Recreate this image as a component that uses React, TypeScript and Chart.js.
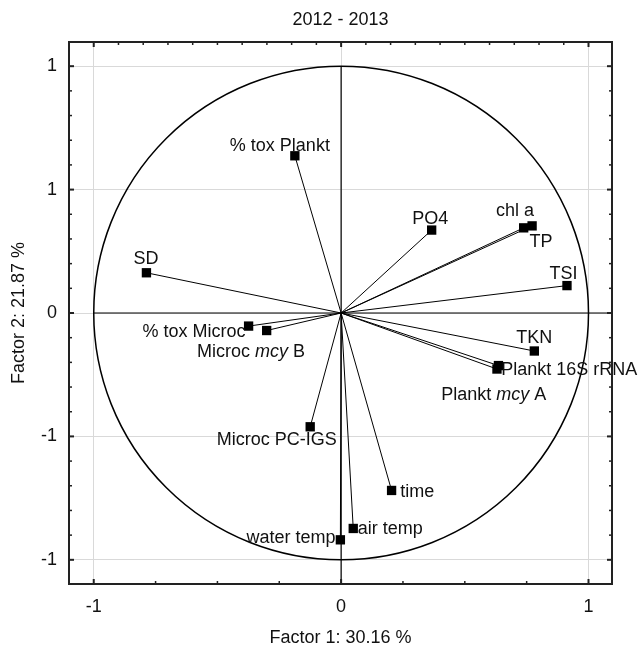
import React, { useEffect, useRef } from "react";
import { Chart, registerables } from "chart.js";

Chart.register(...registerables);

// ---- data ----
const chartTitle = "2012 - 2013";
const xAxisTitle = "Factor 1: 30.16 %";
const yAxisTitle = "Factor 2: 21.87 %";

const variables = [
  "% tox Plankt",
  "PO4",
  "chl a",
  "TP",
  "TSI",
  "SD",
  "% tox Microc",
  "Microc mcy B",
  "TKN",
  "Plankt 16S rRNA",
  "Plankt mcy A",
  "Microc PC-IGS",
  "time",
  "air temp",
  "water temp",
];
const factor1 = [-0.187, 0.366, 0.738, 0.772, 0.913, -0.787, -0.374, -0.301, 0.781, 0.636, 0.63, -0.125, 0.204, 0.049, -0.003];
const factor2 = [0.637, 0.336, 0.345, 0.353, 0.111, 0.163, -0.053, -0.071, -0.154, -0.213, -0.227, -0.461, -0.719, -0.873, -0.919];
const italicWord = "mcy";

const xTickValues = [-1, 0, 1];
const xTickLabels = ["-1", "0", "1"];
const yTickValues = [-1, -0.5, 0, 0.5, 1];
const yTickLabels = ["-1", "-1", "0", "1", "1"];

// ---- style / placement (not data) ----
const FONT_FAMILY = '"Liberation Sans", Arial, Helvetica, sans-serif';
const FONT_SIZE = 18;
const TEXT_COLOR = "#111";
// [align, dx, dy(baseline)] relative to marker centre, in pixels
const labelPlacement: [CanvasTextAlign, number, number][] = [
  ["center", -15, -4.6],
  ["center", -1.3, -6.4],
  ["center", -8.7, -11.7],
  ["left", -2.7, 20.9],
  ["center", -3.5, -7],
  ["center", -0.5, -9.2],
  ["right", -3, 11.3],
  ["center", -15.7, 26.2],
  ["center", 0, -7.7],
  ["left", 2.7, 9.5],
  ["center", -3.2, 31],
  ["center", -33.5, 18.3],
  ["left", 8.7, 6.2],
  ["left", 4.6, 5.6],
  ["right", -4.8, 3.3],
];

function range(a: number, b: number, step: number) {
  const out: number[] = [];
  const n = Math.round((b - a) / step);
  for (let i = 0; i <= n; i++) out.push(+(a + i * step).toFixed(4));
  return out;
}
const topTicks = range(-1, 1, 0.1);
const bottomTicks = range(-1, 1, 0.25);
const sideTicks = range(-1, 1, 0.1);

function segments(text: string) {
  return text.split(new RegExp(`(${italicWord})`)).filter((s) => s.length).map((s) => ({ t: s, it: s === italicWord }));
}

const decorPlugin = {
  id: "decor",
  beforeDatasetsDraw(chart: any) {
    const { ctx, chartArea: a } = chart;
    const xs = chart.scales.x;
    const ys = chart.scales.y;
    const cx = xs.getPixelForValue(0);
    const cy = ys.getPixelForValue(0);
    const rx = xs.getPixelForValue(1) - cx;
    const ry = cy - ys.getPixelForValue(1);
    ctx.save();
    // circle
    ctx.beginPath();
    ctx.ellipse(cx, cy, rx, ry, 0, 0, Math.PI * 2);
    ctx.strokeStyle = "#000";
    ctx.lineWidth = 1.5;
    ctx.stroke();
    // axes lines
    ctx.lineWidth = 1.2;
    ctx.beginPath();
    ctx.moveTo(xs.getPixelForValue(-1), cy);
    ctx.lineTo(a.right, cy);
    ctx.moveTo(cx, ys.getPixelForValue(1));
    ctx.lineTo(cx, a.bottom);
    ctx.stroke();
    ctx.restore();
  },
  afterDatasetsDraw(chart: any) {
    const { ctx, chartArea: a } = chart;
    const xs = chart.scales.x;
    const ys = chart.scales.y;
    ctx.save();
    // labels
    ctx.fillStyle = TEXT_COLOR;
    ctx.textBaseline = "alphabetic";
    variables.forEach((name, i) => {
      const meta = chart.getDatasetMeta(i);
      const p = meta.data[1];
      if (!p) return;
      const [align, dx, dy] = labelPlacement[i];
      const segs = segments(name);
      const widths = segs.map((s) => {
        ctx.font = `${s.it ? "italic " : ""}${FONT_SIZE}px ${FONT_FAMILY}`;
        return ctx.measureText(s.t).width;
      });
      const total = widths.reduce((u, v) => u + v, 0);
      let x = p.x + dx;
      if (align === "center") x -= total / 2;
      else if (align === "right") x -= total;
      const y = p.y + dy;
      ctx.textAlign = "left";
      segs.forEach((s, k) => {
        ctx.font = `${s.it ? "italic " : ""}${FONT_SIZE}px ${FONT_FAMILY}`;
        ctx.fillText(s.t, x, y);
        x += widths[k];
      });
    });
    // titles
    ctx.font = `${FONT_SIZE}px ${FONT_FAMILY}`;
    ctx.textAlign = "center";
    ctx.fillText(chartTitle, (a.left + a.right) / 2, 25);
    ctx.fillText(xAxisTitle, (a.left + a.right) / 2, 643);
    ctx.save();
    ctx.translate(24, (a.top + a.bottom) / 2);
    ctx.rotate(-Math.PI / 2);
    ctx.fillText(yAxisTitle, 0, 0);
    ctx.restore();
    // frame
    ctx.strokeStyle = "#222";
    ctx.lineWidth = 2;
    ctx.strokeRect(a.left, a.top, a.right - a.left, a.bottom - a.top);
    // tick marks (inward)
    const isMajor = (v: number, majors: number[]) => majors.some((m) => Math.abs(m - v) < 1e-6);
    const drawTick = (x1: number, y1: number, x2: number, y2: number, w: number) => {
      ctx.lineWidth = w;
      ctx.beginPath();
      ctx.moveTo(x1, y1);
      ctx.lineTo(x2, y2);
      ctx.stroke();
    };
    topTicks.forEach((v) => {
      const px = xs.getPixelForValue(v);
      const m = isMajor(v, xTickValues);
      drawTick(px, a.top, px, a.top + (m ? 5 : 3), m ? 2 : 1.5);
    });
    bottomTicks.forEach((v) => {
      const px = xs.getPixelForValue(v);
      const m = isMajor(v, xTickValues);
      drawTick(px, a.bottom, px, a.bottom - (m ? 5 : 3), m ? 2 : 1.5);
    });
    sideTicks.forEach((v) => {
      const py = ys.getPixelForValue(v);
      const m = isMajor(v, yTickValues);
      drawTick(a.left, py, a.left + (m ? 5 : 3), py, m ? 2 : 1.5);
      drawTick(a.right, py, a.right - (m ? 5 : 3), py, m ? 2 : 1.5);
    });
    ctx.restore();
  },
};

export default function App() {
  const ref = useRef<HTMLCanvasElement | null>(null);
  useEffect(() => {
    if (!ref.current) return;
    const datasets = variables.map((name, i) => ({
      label: name,
      data: [
        { x: 0, y: 0 },
        { x: factor1[i], y: factor2[i] },
      ],
      showLine: true,
      borderColor: "#000",
      borderWidth: 1,
      pointRadius: [0, 6.6],
      pointHoverRadius: [0, 6.6],
      pointStyle: "rect",
      pointBackgroundColor: "#000",
      pointBorderColor: "#000",
      pointBorderWidth: 0,
      clip: false as any,
    }));
    const tickFont = { family: FONT_FAMILY, size: FONT_SIZE };
    const chart = new Chart(ref.current, {
      type: "scatter",
      data: { datasets },
      plugins: [decorPlugin],
      options: {
        responsive: false,
        animation: false,
        devicePixelRatio: 1,
        layout: { padding: { top: 42, right: 29, left: 0, bottom: 0 } },
        plugins: { legend: { display: false }, tooltip: { enabled: false }, title: { display: false } },
        scales: {
          x: {
            type: "linear",
            min: -1.1,
            max: 1.095,
            afterBuildTicks: (s: any) => {
              s.ticks = xTickValues.map((v) => ({ value: v }));
            },
            afterFit: (s: any) => {
              s.height = 66;
            },
            ticks: {
              font: tickFont,
              color: TEXT_COLOR,
              padding: 12,
              maxRotation: 0,
              autoSkip: false,
              callback: (_v: any, idx: number) => xTickLabels[idx],
            },
            grid: { color: "#d9d9d9", lineWidth: 1, drawTicks: false },
            border: { display: false },
          },
          y: {
            type: "linear",
            min: -1.098,
            max: 1.098,
            afterBuildTicks: (s: any) => {
              s.ticks = yTickValues.map((v) => ({ value: v }));
            },
            afterFit: (s: any) => {
              s.width = 69;
            },
            ticks: {
              font: tickFont,
              color: TEXT_COLOR,
              padding: 12,
              autoSkip: false,
              callback: (_v: any, idx: number) => yTickLabels[idx],
            },
            grid: { color: "#d9d9d9", lineWidth: 1, drawTicks: false },
            border: { display: false },
          },
        },
      } as any,
    });
    return () => chart.destroy();
  }, []);
  return (
    <div style={{ position: "fixed", left: 0, top: 0, width: 641, height: 650, background: "#fff" }}>
      <canvas ref={ref} width={641} height={650} style={{ display: "block", width: 641, height: 650 }} />
    </div>
  );
}
